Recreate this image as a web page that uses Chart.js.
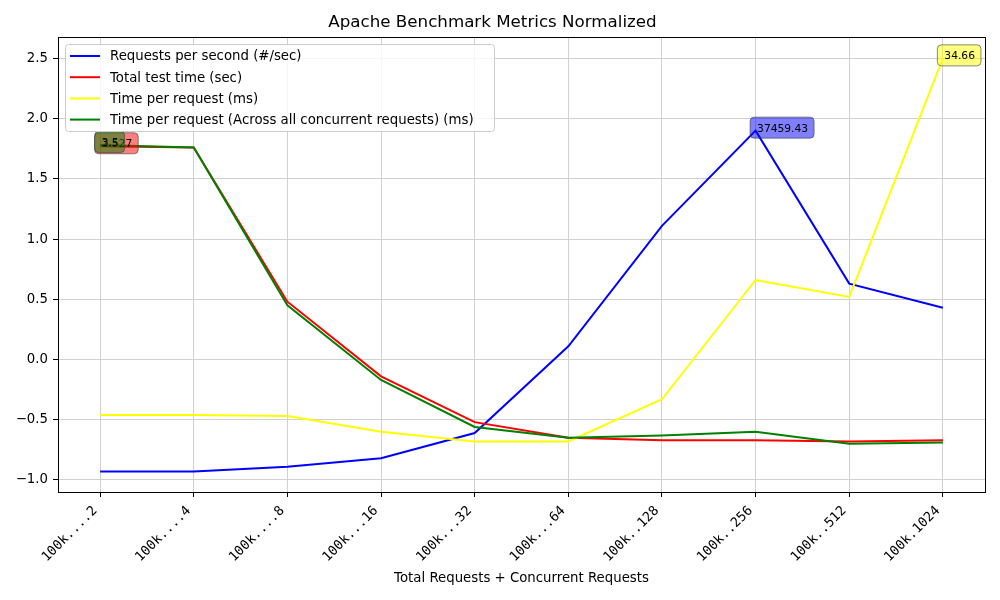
<!DOCTYPE html>
<html>
<head>
<meta charset="utf-8">
<title>Apache Benchmark Metrics Normalized</title>
<script src="https://cdn.jsdelivr.net/npm/chart.js@4/dist/chart.umd.min.js"></script>
<style>
  html, body { margin: 0; padding: 0; background: #fff; }
</style>
</head>
<body>
<canvas id="chart" width="1000" height="600"></canvas>
<script>
const categories = ["100k....2", "100k....4", "100k....8", "100k...16", "100k...32",
                    "100k...64", "100k..128", "100k..256", "100k..512", "100k.1024"];

// normalized values
const requestsPerSecond = [-0.93, -0.93, -0.89, -0.82, -0.61, 0.11, 1.11, 1.90, 0.63, 0.43];
const totalTestTime = [1.77, 1.76, 0.48, -0.14, -0.52, -0.65, -0.67, -0.67, -0.68, -0.67];
const timePerRequest = [-0.46, -0.46, -0.47, -0.60, -0.68, -0.68, -0.33, 0.66, 0.52, 2.50];
const timePerRequestAll = [1.78, 1.76, 0.45, -0.17, -0.56, -0.65, -0.63, -0.60, -0.70, -0.69];

const seriesNames = [
  "Requests per second (#/sec)",
  "Total test time (sec)",
  "Time per request (ms)",
  "Time per request (Across all concurrent requests) (ms)"
];
const seriesColors = ["#0000ff", "#ff0000", "#ffff00", "#008000"];
const boxColors = ["rgba(0,0,255,0.5)", "rgba(255,0,0,0.5)", "rgba(255,255,0,0.5)", "rgba(0,128,0,0.5)"];
// raw value shown at the max of each series
const peakLabels = ["37459.43", "2.527", "34.66", "3.5"];

const allSeries = [requestsPerSecond, totalTestTime, timePerRequest, timePerRequestAll];

function toPoints(vals) {
  return vals.map((v, i) => ({ x: i, y: v }));
}

function roundRect(ctx, x, y, w, h, r) {
  ctx.beginPath();
  ctx.moveTo(x + r, y);
  ctx.lineTo(x + w - r, y);
  ctx.quadraticCurveTo(x + w, y, x + w, y + r);
  ctx.lineTo(x + w, y + h - r);
  ctx.quadraticCurveTo(x + w, y + h, x + w - r, y + h);
  ctx.lineTo(x + r, y + h);
  ctx.quadraticCurveTo(x, y + h, x, y + h - r);
  ctx.lineTo(x, y + r);
  ctx.quadraticCurveTo(x, y, x + r, y);
  ctx.closePath();
}

const overlay = {
  id: "overlay",
  afterDatasetsDraw(chart) {
    const { ctx, chartArea: a, scales } = chart;
    ctx.save();

    // peak annotations
    ctx.font = "10.7px 'DejaVu Sans'";
    ctx.textBaseline = "alphabetic";
    allSeries.forEach((vals, s) => {
      let idx = 0;
      vals.forEach((v, i) => { if (v > vals[idx]) idx = i; });
      const px = scales.x.getPixelForValue(idx);
      const py = scales.y.getPixelForValue(vals[idx]);
      const w = ctx.measureText(peakLabels[s]).width;
      roundRect(ctx, px - 5.5, py - 13.5, w + 13, 21, 4);
      ctx.fillStyle = boxColors[s];
      ctx.fill();
      ctx.strokeStyle = "rgba(60,60,60,0.6)";
      ctx.lineWidth = 1;
      ctx.stroke();
      ctx.fillStyle = "#000";
      ctx.fillText(peakLabels[s], px + 1.5, py + 1);
    });

    // frame
    ctx.strokeStyle = "#000";
    ctx.lineWidth = 1;
    ctx.strokeRect(Math.round(a.left) + 0.5, Math.round(a.top) + 0.5,
                   Math.round(a.right - a.left), Math.round(a.bottom - a.top));

    // legend
    const lx = 65, ly = 44;
    roundRect(ctx, lx + 0.5, ly + 0.5, 429, 87, 3);
    ctx.fillStyle = "rgba(255,255,255,0.8)";
    ctx.fill();
    ctx.strokeStyle = "#cccccc";
    ctx.stroke();
    ctx.font = "13.3px 'DejaVu Sans'";
    ctx.textBaseline = "middle";
    seriesNames.forEach((name, i) => {
      const yy = ly + 12 + i * 21.2;
      ctx.strokeStyle = seriesColors[i];
      ctx.lineWidth = 2;
      ctx.beginPath();
      ctx.moveTo(lx + 5, yy);
      ctx.lineTo(lx + 35, yy);
      ctx.stroke();
      ctx.fillStyle = "#000";
      ctx.fillText(name, lx + 45, yy + 1);
    });
    ctx.restore();
  }
};

const ctx = document.getElementById("chart").getContext("2d");
new Chart(ctx, {
  type: "line",
  data: {
    datasets: allSeries.map((vals, i) => ({
      label: seriesNames[i],
      data: toPoints(vals),
      borderColor: seriesColors[i],
      backgroundColor: seriesColors[i],
      borderWidth: 2,
      pointRadius: 0,
      tension: 0,
      fill: false,
      order: 3 - i
    }))
  },
  options: {
    responsive: false,
    animation: false,
    devicePixelRatio: 1,
    layout: { padding: { left: 0, right: 15, top: 0, bottom: 0 } },
    plugins: {
      legend: { display: false },
      tooltip: { enabled: false },
      title: {
        display: true,
        text: "Apache Benchmark Metrics Normalized",
        color: "#000",
        font: { family: "DejaVu Sans", size: 16.7, weight: "normal" },
        padding: { top: 13, bottom: 4 }
      }
    },
    scales: {
      x: {
        type: "linear",
        min: -0.45,
        max: 9.45,
        afterFit(scale) { scale.height = 108; },
        ticks: {
          stepSize: 1,
          includeBounds: false,
          autoSkip: false,
          minRotation: 45,
          maxRotation: 45,
          padding: 6,
          labelOffset: -5,
          color: "#000",
          font: { family: "DejaVu Sans Mono", size: 13.3 },
          callback: (v) => Number.isInteger(v) ? categories[v] : ""
        },
        grid: { color: "#d0d0d0", tickColor: "#000", tickLength: 5 },
        border: { color: "#000", width: 1 },
        title: {
          display: true,
          text: "Total Requests + Concurrent Requests",
          color: "#000",
          font: { family: "DejaVu Sans", size: 13.3 },
          padding: { top: 4, bottom: 13 }
        }
      },
      y: {
        min: -1.1,
        max: 2.677,
        afterFit(scale) { scale.width = 58; },
        ticks: {
          stepSize: 0.5,
          includeBounds: false,
          padding: 5,
          color: "#000",
          font: { family: "DejaVu Sans", size: 13.3 },
          callback: (v) => v < 0 ? "\u2212" + Math.abs(v).toFixed(1) : v.toFixed(1)
        },
        grid: { color: "#d0d0d0", tickColor: "#000", tickLength: 5 },
        border: { color: "#000", width: 1 }
      }
    }
  },
  plugins: [overlay]
});
</script>
</body>
</html>
